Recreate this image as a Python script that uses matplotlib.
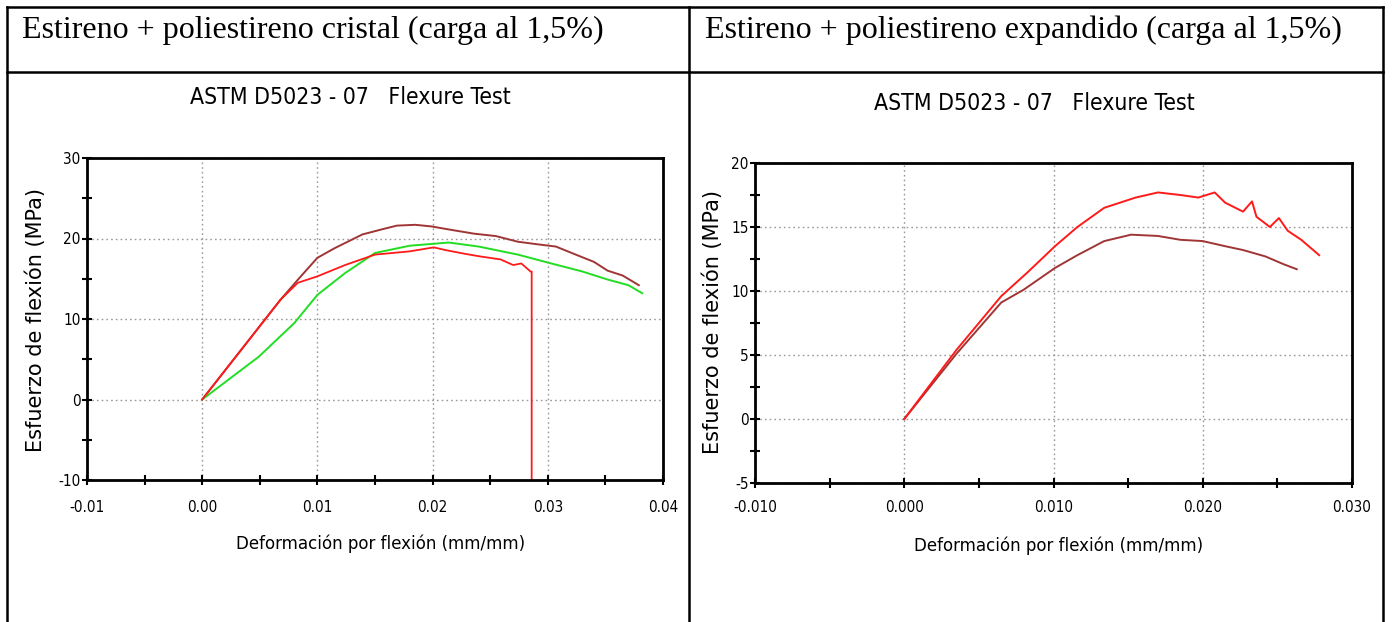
import matplotlib
matplotlib.use("Agg")
import matplotlib.pyplot as plt
from matplotlib.lines import Line2D
from matplotlib.ticker import MultipleLocator, FormatStrFormatter

# Panel headers
header_left = "Estireno + poliestireno cristal (carga al 1,5%)"
header_right = "Estireno + poliestireno expandido (carga al 1,5%)"
chart_title = "ASTM D5023 - 07   Flexure Test"
x_label = "Deformación por flexión (mm/mm)"
y_label = "Esfuerzo de flexión (MPa)"

# Left panel: cristal
cr_brown_x = [0.0, 0.0034, 0.0068, 0.0085, 0.0100, 0.0115, 0.0139, 0.0155, 0.0169, 0.0185,
              0.0199, 0.0215, 0.0236, 0.0255, 0.0274, 0.0290, 0.0307, 0.0326, 0.0340, 0.0352, 0.0365, 0.0379]
cr_brown_y = [0.0, 6.2, 12.4, 15.2, 17.6, 18.8, 20.5, 21.1, 21.6, 21.7,
              21.5, 21.1, 20.6, 20.3, 19.6, 19.3, 19.0, 17.9, 17.1, 16.0, 15.4, 14.2]
cr_red_x = [0.0, 0.0034, 0.0068, 0.0083, 0.0100, 0.0124, 0.0150, 0.0165, 0.0180, 0.0201,
            0.0210, 0.0217, 0.0228, 0.0240, 0.0259, 0.0270, 0.0277, 0.0285, 0.0286, 0.0286]
cr_red_y = [0.0, 6.2, 12.4, 14.5, 15.3, 16.7, 18.0, 18.2, 18.4, 18.9,
            18.6, 18.4, 18.1, 17.8, 17.4, 16.7, 16.9, 15.9, 15.9, -10.0]
cr_green_x = [0.0, 0.0049, 0.0080, 0.0100, 0.0124, 0.0150, 0.0180, 0.0214, 0.0240,
              0.0274, 0.0303, 0.0330, 0.0352, 0.0370, 0.0382]
cr_green_y = [0.0, 5.3, 9.5, 13.0, 15.7, 18.2, 19.1, 19.5, 19.0,
              18.0, 16.9, 15.9, 14.9, 14.2, 13.2]

# Right panel: expandido
ex_red_x = [0.0, 0.0035, 0.0065, 0.0083, 0.0101, 0.0116, 0.0134, 0.0155, 0.0170, 0.0185,
            0.0197, 0.0208, 0.0215, 0.0227, 0.0233, 0.0236, 0.0245, 0.0251, 0.0257, 0.0266, 0.0278]
ex_red_y = [0.0, 5.4, 9.6, 11.5, 13.5, 15.0, 16.5, 17.3, 17.7, 17.5,
            17.3, 17.7, 16.9, 16.2, 17.0, 15.8, 15.0, 15.7, 14.7, 14.0, 12.8]
ex_brown_x = [0.0, 0.0035, 0.0065, 0.0080, 0.0101, 0.0116, 0.0134, 0.0152, 0.0170, 0.0185,
              0.0200, 0.0215, 0.0227, 0.0242, 0.0254, 0.0263]
ex_brown_y = [0.0, 5.1, 9.1, 10.1, 11.8, 12.8, 13.9, 14.4, 14.3, 14.0,
              13.9, 13.5, 13.2, 12.7, 12.1, 11.7]

W, H = 1394, 622
fig = plt.figure(figsize=(W / 100, H / 100), dpi=100)


def px_axes(left, right, top, bottom):
    return fig.add_axes([left / W, 1 - bottom / H, (right - left) / W, (bottom - top) / H])


def style_axes(ax, xlim, ylim, xmaj, ymaj, xfmt, yfmt, xpad):
    ax.set_xlim(*xlim)
    ax.set_ylim(*ylim)
    ax.xaxis.set_major_locator(MultipleLocator(xmaj))
    ax.xaxis.set_minor_locator(MultipleLocator(xmaj / 2))
    ax.yaxis.set_major_locator(MultipleLocator(ymaj))
    ax.yaxis.set_minor_locator(MultipleLocator(ymaj / 2))
    ax.xaxis.set_major_formatter(FormatStrFormatter(xfmt))
    ax.yaxis.set_major_formatter(FormatStrFormatter(yfmt))
    ax.tick_params(which="both", direction="inout", length=7, width=1.5, colors="black")
    ax.tick_params(axis="x", pad=xpad)
    ax.tick_params(axis="y", pad=1)
    for lab in ax.get_xticklabels() + ax.get_yticklabels():
        lab.set_fontfamily("DejaVu Sans")
        lab.set_fontstretch("condensed")
        lab.set_fontsize(11)
    for s in ax.spines.values():
        s.set_linewidth(2)
    ax.grid(True, which="major", linestyle=(0, (1.2, 2.2)), color="#999999", linewidth=1)


# left chart
ax1 = px_axes(87, 663, 158, 480)
ax1.plot(cr_brown_x, cr_brown_y, color="#a03535", lw=1.4)
ax1.plot(cr_green_x, cr_green_y, color="#22dd22", lw=1.4)
ax1.plot(cr_red_x, cr_red_y, color="#ff1a1a", lw=1.3)
style_axes(ax1, (-0.01, 0.04), (-10, 30), 0.01, 10, "%.2f", "%d", 11)

# right chart
ax2 = px_axes(755, 1352, 163, 483)
ax2.plot(ex_brown_x, ex_brown_y, color="#a03535", lw=1.4)
ax2.plot(ex_red_x, ex_red_y, color="#ff1a1a", lw=1.4)
style_axes(ax2, (-0.010, 0.030), (-5, 20), 0.010, 5, "%.3f", "%d", 9)

# chart texts: (title x, title y, xlabel x, xlabel y, ylabel x, ylabel y)
for tx, ty, xlx, xly, ylx, yly in [(350, 98, 381, 544, 36, 320), (1034, 103, 1059, 546, 713, 322)]:
    fig.text(tx / W, 1 - ty / H, chart_title, ha="center", va="center",
             fontsize=16.5, family="DejaVu Sans", stretch="condensed")
    fig.text(xlx / W, 1 - xly / H, x_label, ha="center", va="center",
             fontsize=13.3, family="DejaVu Sans", stretch="condensed")
    fig.text(ylx / W, 1 - yly / H, y_label, ha="center", va="center", rotation=90,
             fontsize=15, family="DejaVu Sans")

# table header text
fig.text(22 / W, 1 - 30 / H, header_left, ha="left", va="center",
         fontsize=23, family="Liberation Serif")
fig.text(705 / W, 1 - 30 / H, header_right, ha="left", va="center",
         fontsize=23, family="Liberation Serif")


# table borders (pixel coordinates)
def hline(y, x0, x1):
    fig.add_artist(Line2D([x0 / W, x1 / W], [1 - y / H, 1 - y / H], color="black", lw=1.8))


def vline(x, y0, y1):
    fig.add_artist(Line2D([x / W, x / W], [1 - y0 / H, 1 - y1 / H], color="black", lw=1.8))


hline(7, 7, 1383)
hline(72, 7, 1383)
vline(7, 7, 622)
vline(689, 7, 622)
vline(1383, 7, 622)

fig.savefig("out.png", dpi=100)
